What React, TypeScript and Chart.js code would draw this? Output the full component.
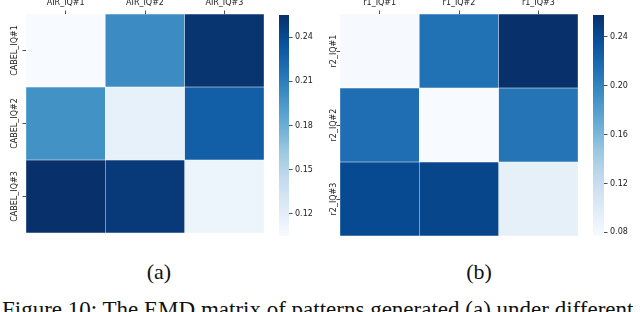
import React, { useEffect, useRef } from 'react';
import { Chart, registerables } from 'chart.js';

Chart.register(...registerables);

// ---------- data ----------
const colsA = ['AIR_IQ#1', 'AIR_IQ#2', 'AIR_IQ#3'];
const rowsA = ['CABEL_IQ#1', 'CABEL_IQ#2', 'CABEL_IQ#3'];
const rowA1 = [0.105, 0.202, 0.253];
const rowA2 = [0.199, 0.117, 0.228];
const rowA3 = [0.255, 0.25, 0.113];
const cbTicksA = [0.12, 0.15, 0.18, 0.21, 0.24];

const colsB = ['r1_IQ#1', 'r1_IQ#2', 'r1_IQ#3'];
const rowsB = ['r2_IQ#1', 'r2_IQ#2', 'r2_IQ#3'];
const rowB1 = [0.078, 0.213, 0.258];
const rowB2 = [0.215, 0.077, 0.211];
const rowB3 = [0.24, 0.243, 0.093];
const cbTicksB = [0.08, 0.12, 0.16, 0.2, 0.24];

const captionA = '(a)';
const captionB = '(b)';
const figCaption = 'Figure 10: The EMD matrix of patterns generated (a) under different';

// ---------- style helpers ----------
const BLUES = [
  [247, 251, 255], [222, 235, 247], [198, 219, 239], [158, 202, 225], [107, 174, 214],
  [66, 146, 198], [33, 113, 181], [8, 81, 156], [8, 48, 107],
];
function blues(t: number) {
  const c = Math.max(0, Math.min(1, t));
  const p = c * 8;
  const i = Math.min(7, Math.floor(p));
  const f = p - i;
  const a = BLUES[i], b = BLUES[i + 1];
  const m = (k: number) => Math.round(a[k] + (b[k] - a[k]) * f);
  return `rgb(${m(0)},${m(1)},${m(2)})`;
}

const FONT_FAMILY = '"DejaVu Sans", sans-serif';
const FONT_SIZE = 8;
const TEXT_COLOR = '#1a1a1a';

function measure(text: string) {
  const c = document.createElement('canvas');
  const ctx = c.getContext('2d')!;
  ctx.font = `${FONT_SIZE}px ${FONT_FAMILY}`;
  return ctx.measureText(text).width;
}

function heatConfig(cols: string[], rows: string[], matrix: number[][], yAxisW: number, padRight: number, padBottom: number, yPad: number): any {
  const all = matrix.flat();
  const vmin = Math.min(...all), vmax = Math.max(...all);
  const off = -measure(rows[0]) / 2;
  return {
    type: 'bar',
    data: {
      labels: cols,
      datasets: matrix.map((row, r) => ({
        data: row.map(() => [r, r + 1]),
        backgroundColor: row.map((v) => blues((v - vmin) / (vmax - vmin))),
        borderColor: 'rgba(255,255,255,0.25)',
        borderWidth: 0.5,
        borderSkipped: false,
        grouped: false,
        barPercentage: 1,
        categoryPercentage: 1,
      })),
    },
    options: {
      animation: false,
      responsive: true,
      maintainAspectRatio: false,
      layout: { padding: { left: 0, right: padRight, top: 0, bottom: padBottom } },
      plugins: { legend: { display: false }, tooltip: { enabled: false } },
      scales: {
        x: {
          type: 'category',
          position: 'top',
          offset: true,
          border: { display: false },
          grid: { offset: false, drawOnChartArea: false, tickLength: 3.5, tickColor: '#222', tickWidth: 0.8 },
          ticks: { font: { family: FONT_FAMILY, size: FONT_SIZE }, color: TEXT_COLOR, padding: 2.6, maxRotation: 0, autoSkip: false },
          afterFit: (s: any) => { s.height = 14; },
        },
        y: {
          type: 'linear',
          min: 0,
          max: 3,
          reverse: true,
          border: { display: false },
          grid: { drawOnChartArea: false, tickLength: 3.5, tickColor: '#222', tickWidth: 0.8 },
          afterBuildTicks: (s: any) => { s.ticks = [{ value: 0.5 }, { value: 1.5 }, { value: 2.5 }]; },
          ticks: {
            font: { family: FONT_FAMILY, size: FONT_SIZE },
            color: TEXT_COLOR,
            minRotation: 90,
            maxRotation: 90,
            labelOffset: off,
            padding: yPad,
            callback: (_v: any, i: number) => rows[i],
          },
          afterFit: (s: any) => { s.width = yAxisW; },
        },
      },
    },
  };
}

function colorbarConfig(matrix: number[][], ticks: number[], axisW: number, padLeft: number): any {
  const all = matrix.flat();
  const vmin = Math.min(...all), vmax = Math.max(...all);
  return {
    type: 'bar',
    data: {
      labels: [''],
      datasets: [{
        data: [[vmin, vmax]],
        backgroundColor: (ctx: any) => {
          const area = ctx.chart.chartArea;
          if (!area) return 'rgb(107,174,214)';
          const g = ctx.chart.ctx.createLinearGradient(0, area.bottom, 0, area.top);
          BLUES.forEach((c, k) => g.addColorStop(k / 8, `rgb(${c[0]},${c[1]},${c[2]})`));
          return g;
        },
        borderWidth: 0,
        barPercentage: 1,
        categoryPercentage: 1,
      }],
    },
    options: {
      animation: false,
      responsive: true,
      maintainAspectRatio: false,
      layout: { padding: { left: padLeft, right: 0, top: 15, bottom: 9 } },
      plugins: { legend: { display: false }, tooltip: { enabled: false } },
      scales: {
        x: { display: false },
        y: {
          position: 'right',
          min: vmin,
          max: vmax,
          border: { display: false },
          grid: { drawOnChartArea: false, tickLength: 3.5, tickColor: '#222', tickWidth: 0.8 },
          afterBuildTicks: (s: any) => { s.ticks = ticks.map((v) => ({ value: v })); },
          ticks: {
            font: { family: FONT_FAMILY, size: FONT_SIZE },
            color: TEXT_COLOR,
            padding: 2.5,
            callback: (v: any) => Number(v).toFixed(2),
          },
          afterFit: (s: any) => { s.width = axisW; },
        },
      },
    },
  };
}

function ChartBox({ left, top, width, height, config }: { left: number; top: number; width: number; height: number; config: () => any }) {
  const ref = useRef<HTMLCanvasElement | null>(null);
  useEffect(() => {
    if (!ref.current) return;
    const chart = new Chart(ref.current, config());
    return () => chart.destroy();
  }, []);
  return (
    <div style={{ position: 'absolute', left, top, width, height }}>
      <canvas ref={ref} />
    </div>
  );
}

export default function App() {
  const matA = [rowA1, rowA2, rowA3];
  const matB = [rowB1, rowB2, rowB3];
  const capStyle: React.CSSProperties = {
    position: 'absolute', top: 261, width: 318, textAlign: 'center',
    fontFamily: '"Liberation Serif", "Times New Roman", serif', fontSize: 22, lineHeight: '22px', color: '#111',
  };
  return (
    <div style={{ position: 'fixed', left: 0, top: 0, width: 640, height: 312, background: '#fff', overflow: 'hidden' }}>
      <ChartBox left={0} top={0} width={270} height={245} config={() => heatConfig(colsA, rowsA, matA, 26, 6, 8, 7.2)} />
      <ChartBox left={270} top={0} width={50} height={245} config={() => colorbarConfig(matA, cbTicksA, 31, 9)} />
      <ChartBox left={320} top={0} width={270} height={245} config={() => heatConfig(colsB, rowsB, matB, 20, 12, 9, 2.5)} />
      <ChartBox left={584} top={0} width={56} height={245} config={() => colorbarConfig(matB, cbTicksB, 36, 9)} />
      <div style={{ ...capStyle, left: 0 }}>{captionA}</div>
      <div style={{ ...capStyle, left: 320 }}>{captionB}</div>
      <div style={{
        position: 'absolute', left: 2, top: 298, whiteSpace: 'nowrap',
        fontFamily: '"Liberation Serif", "Times New Roman", serif', fontSize: 23, lineHeight: '23px', color: '#111',
      }}>{figCaption}</div>
    </div>
  );
}
